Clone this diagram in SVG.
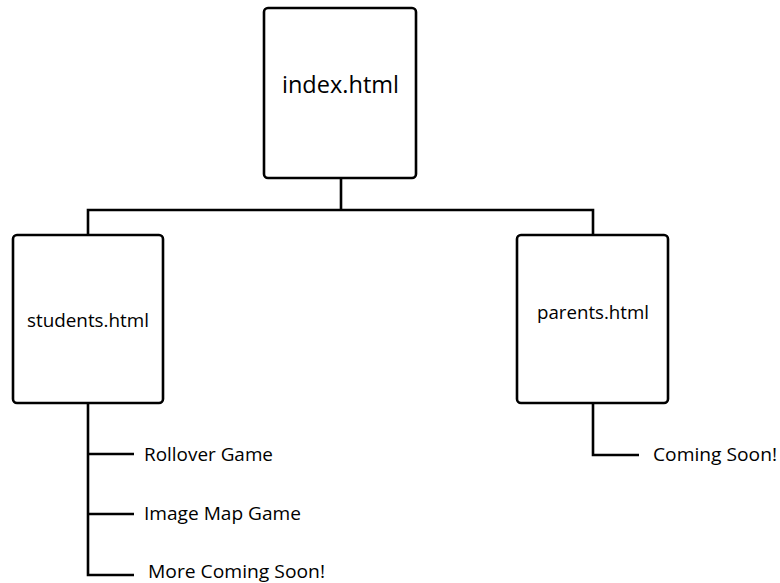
<svg xmlns="http://www.w3.org/2000/svg" width="780" height="583" viewBox="0 0 780 583">
<style>
.box{fill:#fff;stroke:#000;stroke-width:2.6}
.ln{fill:none;stroke:#000;stroke-width:2.6}
text{font-family:"Open Sans","Liberation Sans",sans-serif;fill:#000}
.big{font-size:23px}
.mid{font-size:18px}
.lbl{font-size:18px}
</style>
<rect width="780" height="583" fill="#fff"/>
<g id="connectors">
<path class="ln" d="M341 178V210M88 235V210H593V235"/>
<path class="ln" d="M88 403V575H134M88 454H134M88 514H134"/>
<path class="ln" d="M593 403V455H639"/>
</g>
<g id="index"><rect class="box" x="264" y="8" width="152" height="170" rx="4"/><text class="big" x="282" y="93" textLength="117" lengthAdjust="spacingAndGlyphs">index.html</text></g>
<g id="students"><rect class="box" x="13" y="235" width="150" height="168" rx="4"/><text class="mid" x="27" y="327" textLength="122" lengthAdjust="spacingAndGlyphs">students.html</text></g>
<g id="parents"><rect class="box" x="517" y="235" width="151" height="168" rx="4"/><text class="mid" x="537" y="319" textLength="112" lengthAdjust="spacingAndGlyphs">parents.html</text></g>
<g id="rollover"><text class="lbl" x="144" y="461" textLength="129" lengthAdjust="spacingAndGlyphs">Rollover Game</text></g>
<g id="imagemap"><text class="lbl" x="144" y="520" textLength="157" lengthAdjust="spacingAndGlyphs">Image Map Game</text></g>
<g id="more"><text class="lbl" x="148" y="578" textLength="177" lengthAdjust="spacingAndGlyphs">More Coming Soon!</text></g>
<g id="coming"><text class="lbl" x="653" y="461" textLength="124" lengthAdjust="spacingAndGlyphs">Coming Soon!</text></g>
</svg>
